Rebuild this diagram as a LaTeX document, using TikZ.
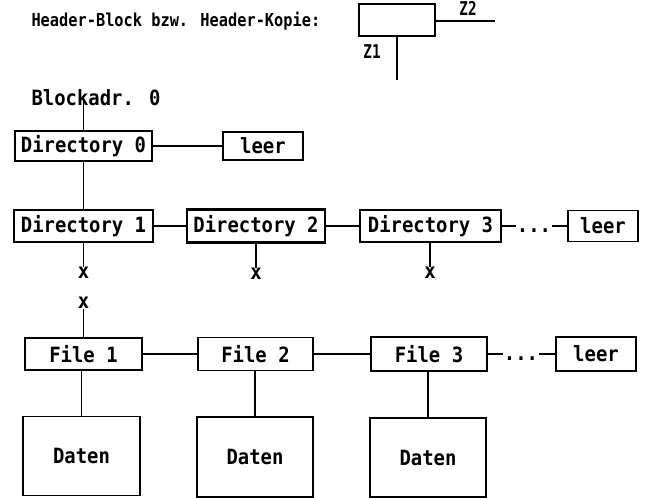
\documentclass[tikz,border=0pt]{standalone}
\usepackage{fontspec}
\newfontfamily\boxfam{DejaVu Sans Mono}[FakeStretch=0.9]
\newfontfamily\headfam{DejaVu Sans Mono}[FakeStretch=0.86]
\newfontfamily\zfam{DejaVu Sans Mono}[FakeStretch=0.75]
\newcommand\boxfont{\boxfam\bfseries\fontsize{21}{21}\selectfont}
\newcommand\headfont{\headfam\bfseries\fontsize{17.8}{17.8}\selectfont}
\newcommand\zfont{\zfam\bfseries\fontsize{19}{19}\selectfont}
\tikzset{
  ent/.style={draw, line width=1.4pt, inner sep=0pt, font=\boxfont},
  heavy/.style={ent, line width=2.4pt},
  conn/.style={line width=1.4pt},
  xref/.style={inner sep=0.5pt, font=\boxfont},
  ellip/.style={inner sep=1pt, font=\boxfont},
}
\begin{document}
\begin{tikzpicture}[x=1pt,y=-1pt]
\useasboundingbox[fill=white] (0,0) rectangle (646,498);

% legend: header block with its two pointers
\node[anchor=base west, font=\headfont] (htitle) at (28,26) {Header-Block bzw. Header-Kopie:};
\node[ent, line width=2pt, minimum width=76pt, minimum height=32pt] (hdr) at (397,20) {};
\coordinate (hz2) at (495,21);
\coordinate (hz1) at (397,80);
\draw[conn] (hdr.east |- hz2) -- (hz2);
\draw[conn] (hdr.south) -- (hz1);
\node[anchor=base, font=\zfont] (z2) at (468,15) {Z2};
\node[anchor=base, font=\zfont] (z1) at (372,58) {Z1};

% block address 0 and directory chain
\node[anchor=base, font=\boxfont] (blk) at (96,105) {Blockadr. 0};
\coordinate (blkp) at (83.5,96);
\node[ent, minimum width=137pt, minimum height=30pt] (d0) at (83.5,146) {Directory 0};
\node[heavy, minimum width=80pt, minimum height=28pt] (l0) at (263,146) {leer};

\node[ent, minimum width=139pt, minimum height=32pt] (d1) at (83.5,226) {Directory 1};
\node[heavy, minimum width=138pt, minimum height=33pt] (d2) at (256,226) {Directory 2};
\node[ent, line width=1.8pt, minimum width=141pt, minimum height=32pt] (d3) at (430.5,226) {Directory 3};
\node[ellip] (dd) at (534,230.5) {...};
\node[ent, line width=1.8pt, minimum width=70pt, minimum height=31pt] (l1) at (603,226) {leer};

\draw[conn] (blkp) -- (d0.north);
\draw[conn] (d0) -- (l0);
\draw[conn] (d0.south) -- (d1.north);
\draw[conn] (d1) -- (d2);
\draw[conn] (d2) -- (d3);
\draw[conn] (d3.east) -- (dd.west |- d3.east);
\draw[conn] (dd.east |- l1.west) -- (l1.west);

% cross-references
\node[xref] (x1) at (83.5,273) {x};
\node[xref] (x2) at (256,274) {x};
\node[xref] (x3) at (430,273) {x};
\node[xref] (x4) at (83.5,303) {x};
\draw[conn] (d1.south) -- (x1.north);
\draw[conn] (d2.south) -- (x2.north);
\draw[conn] (d3.south -| x3) -- (x3.north);

% file chain
\node[ent, minimum width=117pt, minimum height=32pt] (f1) at (83.5,354) {File 1};
\node[ent, minimum width=115pt, minimum height=33pt] (f2) at (255.5,354) {File 2};
\node[ent, minimum width=116pt, minimum height=34pt] (f3) at (429,354) {File 3};
\node[ellip] (fd) at (521,358.5) {...};
\node[heavy, minimum width=80pt, minimum height=34pt] (l2) at (596,354) {leer};

\draw[conn] (f1.north) -- (x4.south);
\draw[conn] (f1) -- (f2);
\draw[conn] (f2) -- (f3);
\draw[conn] (f3.east) -- (fd.west |- f3.east);
\draw[conn] (fd.east |- l2.west) -- (l2.west);

% data blocks
\node[ent, minimum width=117pt, minimum height=79pt] (t1) at (81.5,456) {Daten};
\node[ent, minimum width=116pt, minimum height=80pt] (t2) at (255,457) {Daten};
\node[ent, minimum width=116pt, minimum height=79pt] (t3) at (428,457.5) {Daten};
\draw[conn] (f1.south -| t1) -- (t1.north);
\draw[conn] (f2.south -| t2) -- (t2.north);
\draw[conn] (f3.south -| t3) -- (t3.north);
\end{tikzpicture}
\end{document}
